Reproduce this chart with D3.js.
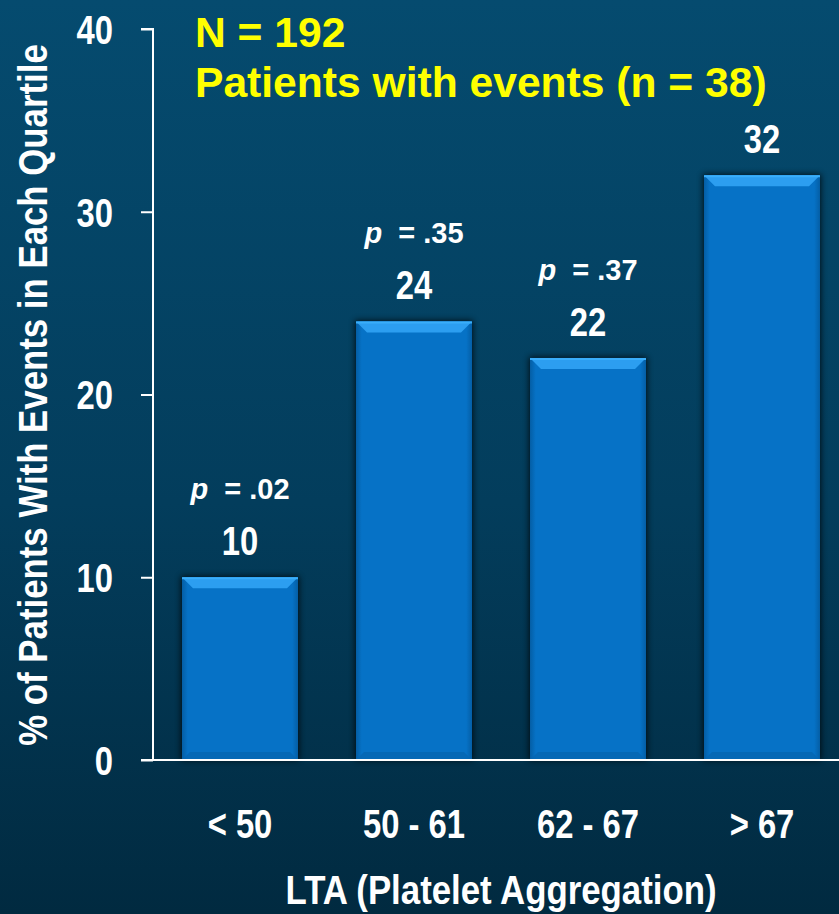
<!DOCTYPE html>
<html>
<head>
<meta charset="utf-8">
<script src="https://cdn.jsdelivr.net/npm/d3@7"></script>
<style>
  html, body { margin: 0; padding: 0; background: #02344f; }
  svg { display: block; }
  .narrow { font-family: "Liberation Sans", Arial, sans-serif; font-weight: bold; fill: #fff; }
  .wide { font-family: "Liberation Sans", Arial, sans-serif; font-weight: bold; }
</style>
</head>
<body>
<svg id="chart" width="839" height="914"></svg>
<script>
// Event rate by LTA quartile
const categories = ["< 50", "50 - 61", "62 - 67", "> 67"];
const values = [10, 24, 22, 32];
const pValues = [".02", ".35", ".37", null];
const yTicks = [0, 10, 20, 30, 40];
const headerLines = ["N = 192", "Patients with events (n = 38)"];
const yTitle = "% of Patients With Events in Each Quartile";
const xTitle = "LTA (Platelet Aggregation)";

const W = 839, H = 914;
const NARROW = 0.82;      // horizontal squeeze for condensed labels
const TITLE_NARROW = 0.87;
const svg = d3.select("#chart");
const defs = svg.append("defs");

// background
const bg = defs.append("linearGradient").attr("id", "bg").attr("x1", 0).attr("y1", 0).attr("x2", 0).attr("y2", 1);
bg.append("stop").attr("offset", "0%").attr("stop-color", "#054b6f");
bg.append("stop").attr("offset", "55%").attr("stop-color", "#033d5c");
bg.append("stop").attr("offset", "100%").attr("stop-color", "#012a40");
svg.append("rect").attr("width", W).attr("height", H).attr("fill", "url(#bg)");

const shadow = defs.append("filter").attr("id", "shadow").attr("x", "-20%").attr("y", "-20%").attr("width", "140%").attr("height", "140%");
shadow.append("feGaussianBlur").attr("in", "SourceAlpha").attr("stdDeviation", 3);

// side shading for bars
const sideGrad = defs.append("linearGradient").attr("id", "side").attr("x1", 0).attr("y1", 0).attr("x2", 1).attr("y2", 0);
[["0%", "#045ea5"], ["5%", "#0672c6"], ["95%", "#0672c6"], ["100%", "#045ea5"]]
  .forEach(([o, c]) => sideGrad.append("stop").attr("offset", o).attr("stop-color", c));

const x = d3.scaleBand().domain(categories).range([153, 849]).paddingInner(1 / 3).paddingOuter(1 / 6);
const y = d3.scaleLinear().domain([0, 40]).range([760, 29]);

// bars
const bevel = 11;
const bars = svg.append("g").selectAll("g").data(categories).join("g");
bars.append("rect")
  .attr("x", d => x(d) - 1).attr("y", (d, i) => y(values[i]) - 1)
  .attr("width", x.bandwidth() + 2).attr("height", (d, i) => y(0) - y(values[i]) + 1)
  .attr("fill", "#00182a").attr("opacity", 0.75).attr("filter", "url(#shadow)");
bars.append("rect")
  .attr("x", d => x(d)).attr("y", (d, i) => y(values[i]))
  .attr("width", x.bandwidth()).attr("height", (d, i) => y(0) - y(values[i]))
  .attr("fill", "url(#side)");
// top bevel
bars.append("path")
  .attr("d", (d, i) => {
    const x0 = x(d), x1 = x(d) + x.bandwidth(), t = y(values[i]);
    return `M${x0},${t}L${x1},${t}L${x1 - bevel},${t + bevel}L${x0 + bevel},${t + bevel}Z`;
  })
  .attr("fill", "#2c9ef0");
bars.append("line")
  .attr("x1", d => x(d)).attr("x2", d => x(d) + x.bandwidth())
  .attr("y1", (d, i) => y(values[i]) + 1).attr("y2", (d, i) => y(values[i]) + 1)
  .attr("stroke", "#3aaefa").attr("stroke-width", 2);
// bottom bevel
bars.append("path")
  .attr("d", (d) => {
    const x0 = x(d), x1 = x(d) + x.bandwidth(), b = y(0);
    return `M${x0},${b}L${x1},${b}L${x1 - 8},${b - 8}L${x0 + 8},${b - 8}Z`;
  })
  .attr("fill", "#0565b0").attr("opacity", 0.8);

// axes
const yAxis = svg.append("g").attr("transform", "translate(153,0)")
  .call(d3.axisLeft(y).tickValues(yTicks).tickSize(12).tickFormat(d3.format("d")));
yAxis.select(".domain").attr("stroke", "#fff").attr("stroke-width", 2).attr("d", `M-12,${y(40)}H0V${y(0)}`);
yAxis.selectAll(".tick line").attr("stroke", "#fff").attr("stroke-width", 2);
yAxis.selectAll(".tick text").attr("class", "narrow").attr("font-size", 40)
  .attr("x", 0).attr("dy", "0.36em")
  .attr("transform", `translate(-40,0) scale(${NARROW},1)`);

const xAxis = svg.append("g").attr("transform", `translate(0,${y(0)})`)
  .call(d3.axisBottom(x).tickSize(0));
xAxis.select(".domain").attr("stroke", "#fff").attr("stroke-width", 2).attr("d", `M141,0H${W}`);
xAxis.selectAll(".tick text").attr("class", "narrow").attr("font-size", 40)
  .attr("y", 0).attr("dy", 0)
  .attr("transform", `translate(0,78) scale(${NARROW},1)`);

// value labels
svg.append("g").selectAll("text").data(categories).join("text")
  .attr("class", "narrow").attr("font-size", 40).attr("text-anchor", "middle")
  .attr("transform", (d, i) => `translate(${x(d) + x.bandwidth() / 2},${y(values[i]) - 22}) scale(${NARROW},1)`)
  .text((d, i) => values[i]);

// p-values
const pText = svg.append("g").selectAll("text").data(categories.filter((d, i) => pValues[i] !== null)).join("text")
  .attr("class", "wide").attr("fill", "#fff").attr("font-size", 29).attr("text-anchor", "middle")
  .attr("x", d => x(d) + x.bandwidth() / 2)
  .attr("y", d => y(values[categories.indexOf(d)]) - 22 - 56);
pText.append("tspan").attr("font-style", "italic").text("p");
pText.append("tspan").attr("xml:space", "preserve").text(d => "  = " + pValues[categories.indexOf(d)]);

// header
svg.append("g").selectAll("text").data(headerLines).join("text")
  .attr("class", "wide").attr("fill", "#ffff00").attr("font-size", 42.6)
  .attr("x", 195).attr("y", (d, i) => 47 + i * 50)
  .text(d => d);

// axis titles
svg.append("text").attr("class", "narrow").attr("font-size", 40).attr("text-anchor", "middle")
  .attr("transform", `translate(47,395) rotate(-90) scale(${TITLE_NARROW},1)`).text(yTitle);
svg.append("text").attr("class", "narrow").attr("font-size", 40).attr("text-anchor", "middle")
  .attr("transform", `translate(501,904) scale(${TITLE_NARROW},1)`).text(xTitle);
</script>
</body>
</html>
